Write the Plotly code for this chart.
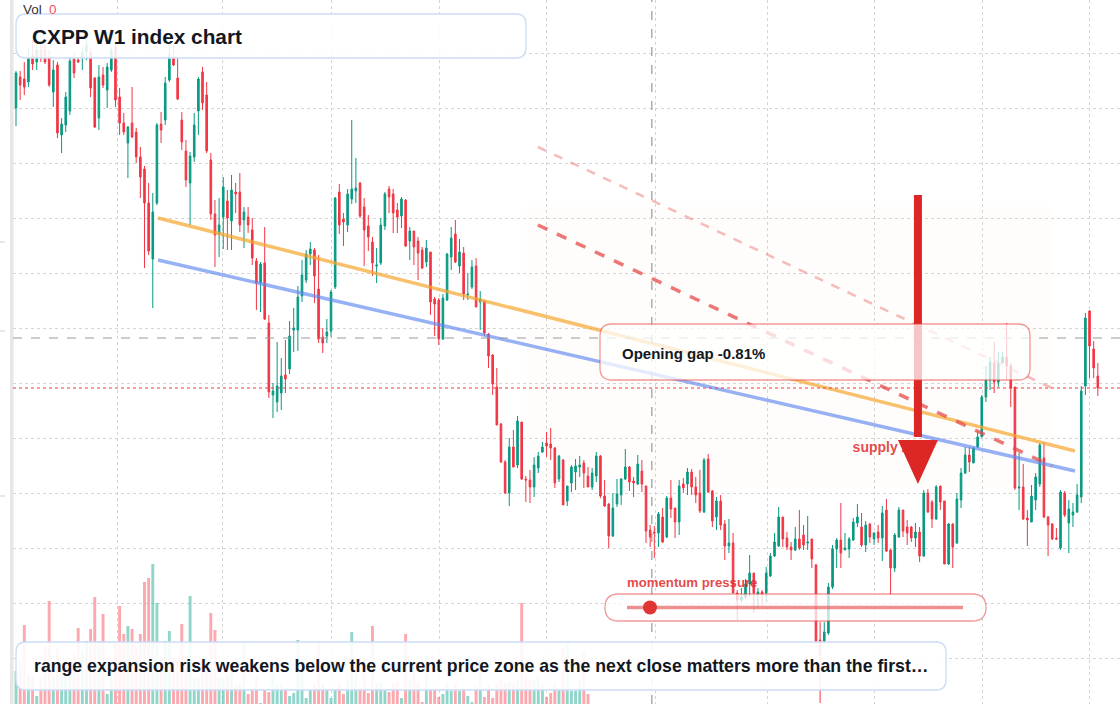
import plotly.graph_objects as go

# ---------------- data (weekly candles) ----------------
OPEN = [
    89.2, 92.3, 92.1, 91.8, 94.5, 93.8, 95.0, 95.0, 94.3, 90.8,
    93.5, 86.5, 87.5, 88.9, 94.1, 94.0, 94.3, 94.8, 94.7, 92.2,
    88.2, 92.5, 91.0, 93.0, 95.3, 90.3, 87.7, 85.7, 87.7, 86.8,
    84.3, 83.1, 79.7, 74.1, 79.7, 87.6, 88.0, 92.0, 94.2, 92.2,
    88.0, 84.9, 81.7, 84.3, 88.9, 92.8, 90.5, 84.0, 78.6, 76.6,
    78.3, 79.9, 77.9, 80.8, 80.8, 78.0, 78.3, 77.0, 73.9, 71.7,
    73.7, 67.7, 60.5, 59.8, 60.7, 62.5, 63.1, 67.0, 67.0, 70.4,
    72.0, 74.6, 75.0, 71.1, 66.3, 66.4, 66.9, 71.3, 80.8, 78.1,
    77.5, 80.1, 80.9, 81.7, 79.3, 77.4, 75.8, 73.4, 73.7, 77.4,
    81.1, 80.6, 79.0, 78.4, 80.0, 75.9, 76.9, 75.9, 75.0, 73.8,
    74.8, 70.1, 70.0, 66.1, 70.0, 74.3, 76.6, 73.4, 74.7, 70.5,
    71.3, 73.4, 69.8, 69.9, 66.6, 64.5, 61.3, 57.6, 53.8, 50.7,
    55.3, 53.5, 57.8, 52.1, 52.0, 51.3, 53.2, 54.8, 55.7, 55.6,
    55.2, 52.1, 54.0, 49.9, 51.7, 52.8, 53.3, 53.7, 52.4, 51.3,
    52.4, 54.4, 50.4, 49.6, 46.4, 49.6, 50.5, 52.1, 53.3, 51.9,
    51.6, 52.9, 51.4, 47.0, 46.8, 46.7, 48.3, 46.3, 50.2, 49.2,
    47.8, 51.6, 51.6, 52.8, 51.3, 50.7, 48.8, 54.1, 50.9, 48.3,
    49.9, 47.6, 45.4, 45.7, 40.7, 40.0, 40.3, 41.6, 42.7, 40.6,
    40.8, 40.7, 42.4, 44.4, 45.4, 48.3, 46.2, 45.3, 45.0, 46.1,
    46.5, 45.7, 46.1, 43.5, 36.0, 35.8, 36.7, 41.3, 45.1, 46.0,
    45.0, 45.1, 46.0, 47.7, 47.3, 45.5, 47.6, 46.1, 46.8, 46.2,
    49.0, 45.0, 43.2, 46.3, 49.0, 47.3, 47.3, 46.2, 46.8, 44.4,
    50.7, 49.8, 48.1, 51.4, 49.9, 43.6, 47.6, 45.7, 50.0, 52.7,
    54.5, 53.7, 55.3, 56.3, 60.3, 62.0, 63.7, 61.8, 63.7, 64.3,
    63.4, 61.3, 51.2, 51.3, 48.2, 47.8, 50.0, 51.6, 54.2, 48.3,
    47.6, 46.2, 45.2, 50.7, 47.7, 48.5, 48.8, 50.3, 61.4, 68.9,
    65.1, 62.4,
]
HIGH = [
    92.9, 92.9, 93.8, 95.3, 96.0, 95.5, 96.0, 95.5, 95.0, 94.0,
    93.8, 88.2, 90.8, 94.2, 94.7, 94.2, 95.3, 96.0, 95.3, 92.3,
    93.5, 93.3, 93.7, 95.3, 95.5, 91.2, 88.7, 87.4, 91.3, 87.2,
    85.3, 83.4, 81.7, 80.7, 87.7, 88.8, 92.3, 95.5, 95.5, 94.2,
    88.8, 86.0, 84.8, 88.7, 92.3, 93.3, 91.8, 84.7, 80.0, 80.2,
    82.3, 81.0, 82.5, 81.7, 82.7, 79.3, 79.3, 78.2, 74.2, 73.8,
    77.3, 68.5, 61.7, 65.8, 64.2, 66.0, 67.9, 69.2, 71.4, 74.0,
    75.0, 75.8, 75.2, 74.5, 67.2, 68.1, 71.0, 80.3, 81.6, 78.7,
    81.1, 88.0, 84.2, 81.8, 80.2, 78.5, 76.3, 75.2, 78.2, 80.8,
    81.4, 81.1, 79.7, 80.3, 80.1, 77.3, 76.9, 76.3, 75.3, 76.0,
    74.8, 70.3, 70.2, 70.6, 74.7, 77.3, 78.0, 76.1, 75.3, 72.7,
    74.0, 74.2, 70.9, 69.9, 66.7, 64.6, 63.2, 57.7, 54.0, 56.2,
    57.0, 58.4, 57.8, 52.4, 53.0, 54.3, 54.8, 55.8, 56.8, 57.2,
    55.3, 54.5, 54.1, 51.4, 53.5, 54.1, 54.4, 54.0, 53.3, 53.2,
    54.8, 54.5, 52.0, 49.7, 50.7, 52.1, 52.2, 55.1, 53.4, 52.3,
    54.5, 54.0, 51.4, 47.5, 47.4, 48.8, 49.2, 50.4, 52.0, 49.2,
    52.0, 52.2, 53.2, 53.1, 52.3, 53.0, 54.2, 54.6, 51.0, 50.3,
    50.5, 48.0, 48.1, 46.7, 41.0, 41.2, 42.1, 44.5, 42.7, 41.2,
    41.0, 43.3, 44.7, 46.7, 49.3, 48.3, 46.8, 45.8, 47.3, 49.0,
    47.5, 48.4, 46.1, 43.6, 37.8, 37.8, 41.7, 45.5, 46.2, 49.7,
    46.7, 46.3, 48.2, 49.6, 48.7, 47.9, 47.7, 46.8, 47.5, 49.4,
    50.1, 45.1, 46.7, 49.3, 49.0, 48.0, 47.4, 47.7, 47.3, 51.0,
    51.1, 50.0, 51.5, 51.4, 49.9, 47.7, 47.7, 50.7, 53.2, 55.3,
    55.3, 55.3, 56.9, 60.5, 63.4, 64.3, 65.8, 64.8, 64.8, 67.7,
    63.7, 61.3, 54.7, 53.6, 49.0, 51.5, 52.7, 55.7, 55.8, 48.4,
    47.7, 47.2, 51.0, 50.9, 50.0, 49.7, 51.6, 61.4, 68.7, 69.0,
    65.9, 63.7,
]
LOW = [
    87.4, 90.0, 90.5, 91.3, 93.0, 93.0, 93.8, 93.6, 91.3, 89.3,
    86.2, 84.7, 86.8, 88.5, 92.2, 93.7, 93.0, 94.0, 90.3, 87.2,
    87.0, 91.2, 89.2, 92.8, 89.3, 86.5, 86.5, 82.2, 86.2, 83.7,
    80.2, 73.2, 74.5, 69.2, 79.5, 85.7, 87.5, 91.8, 93.4, 90.0,
    85.0, 81.3, 77.5, 83.8, 86.5, 89.0, 84.7, 78.0, 73.3, 74.3,
    75.1, 75.0, 75.0, 78.7, 76.8, 75.2, 76.7, 73.5, 69.0, 68.8,
    68.0, 60.2, 58.2, 58.8, 59.0, 60.7, 62.6, 64.8, 64.9, 69.8,
    71.7, 73.5, 69.7, 65.7, 64.7, 65.7, 66.3, 71.1, 76.6, 75.4,
    76.8, 79.6, 79.7, 78.2, 73.4, 74.9, 72.4, 71.7, 73.5, 77.0,
    78.7, 76.7, 76.7, 77.2, 75.3, 74.0, 73.5, 72.0, 73.1, 73.3,
    68.5, 66.4, 65.5, 66.0, 69.9, 73.0, 73.7, 72.7, 70.0, 70.0,
    71.1, 69.3, 67.0, 66.4, 63.2, 60.5, 57.5, 53.7, 50.6, 49.4,
    53.3, 53.2, 52.0, 49.8, 49.7, 50.3, 52.7, 54.7, 54.3, 54.0,
    51.2, 51.8, 49.5, 49.4, 50.8, 51.0, 52.3, 51.2, 51.3, 51.0,
    51.8, 50.2, 49.3, 45.2, 46.3, 49.3, 49.5, 52.0, 50.9, 50.3,
    51.5, 50.8, 45.7, 45.3, 44.2, 45.3, 45.7, 46.2, 48.2, 46.2,
    46.5, 50.7, 50.5, 50.5, 49.7, 48.7, 48.7, 50.7, 47.3, 47.0,
    47.0, 44.0, 44.7, 40.7, 38.0, 39.8, 40.1, 40.3, 38.7, 39.2,
    39.5, 39.8, 42.3, 44.3, 45.3, 45.3, 45.0, 44.0, 44.9, 45.0,
    45.0, 45.0, 43.2, 35.3, 29.7, 35.6, 36.5, 41.1, 43.2, 43.2,
    45.0, 44.2, 45.9, 47.3, 45.3, 44.8, 45.7, 45.5, 45.7, 43.9,
    44.8, 40.5, 42.8, 46.2, 46.3, 45.5, 45.8, 45.3, 43.8, 44.3,
    48.7, 47.2, 48.0, 49.0, 43.6, 43.5, 43.2, 45.6, 49.2, 52.6,
    52.8, 54.3, 55.2, 56.3, 59.8, 61.0, 60.7, 61.3, 63.7, 62.0,
    59.3, 51.0, 49.0, 48.0, 45.4, 47.8, 49.0, 51.3, 48.2, 44.4,
    46.0, 46.0, 45.0, 48.3, 44.7, 47.3, 48.7, 49.7, 60.5, 62.2,
    62.2, 60.4,
]
CLOSE = [
    92.7, 91.5, 91.3, 94.2, 93.6, 95.0, 94.2, 93.8, 91.5, 93.0,
    86.7, 87.6, 90.3, 93.9, 92.7, 93.8, 94.8, 95.5, 91.2, 87.3,
    92.3, 91.5, 93.3, 95.0, 90.0, 87.7, 86.8, 87.3, 86.3, 84.3,
    82.3, 79.7, 74.9, 78.8, 87.5, 87.0, 91.7, 94.5, 93.5, 90.1,
    85.8, 82.0, 84.4, 87.5, 92.1, 89.7, 84.9, 78.6, 76.5, 77.5,
    81.3, 78.2, 81.0, 80.6, 77.5, 78.8, 77.5, 74.2, 71.7, 73.6,
    68.1, 60.8, 60.9, 61.4, 62.4, 62.1, 66.4, 67.2, 70.3, 72.5,
    74.6, 75.1, 72.4, 66.1, 65.7, 66.8, 70.8, 80.2, 77.5, 77.8,
    80.6, 81.1, 81.2, 78.4, 77.0, 76.3, 73.7, 73.5, 77.5, 80.6,
    80.3, 78.7, 78.3, 80.1, 75.4, 76.9, 75.3, 74.7, 73.2, 75.2,
    69.8, 69.6, 66.1, 70.2, 74.6, 76.2, 73.8, 74.8, 70.6, 70.6,
    73.3, 69.3, 70.1, 66.7, 64.4, 61.6, 57.5, 53.8, 50.7, 55.3,
    53.3, 57.9, 52.1, 52.0, 51.3, 53.5, 54.4, 55.3, 55.4, 55.2,
    51.7, 54.4, 49.5, 51.4, 53.3, 53.4, 53.5, 52.7, 51.3, 52.7,
    54.4, 50.4, 49.4, 46.4, 49.2, 50.6, 52.1, 53.3, 51.8, 51.7,
    53.6, 51.6, 46.9, 46.3, 46.7, 48.6, 45.8, 50.2, 49.1, 47.8,
    51.4, 51.2, 52.8, 51.3, 50.5, 48.9, 54.0, 50.8, 47.9, 49.9,
    47.5, 45.4, 45.7, 40.7, 40.0, 40.3, 41.6, 42.7, 40.7, 40.8,
    40.6, 42.7, 44.4, 45.8, 48.3, 46.1, 45.3, 45.0, 46.1, 45.2,
    45.5, 45.8, 44.1, 35.8, 34.5, 36.8, 41.3, 45.1, 46.0, 44.7,
    45.2, 46.1, 47.8, 48.3, 45.5, 47.5, 46.3, 46.7, 46.2, 48.7,
    44.9, 43.2, 46.5, 49.0, 46.9, 46.7, 46.2, 46.8, 44.4, 50.7,
    48.8, 48.1, 51.3, 49.8, 43.6, 47.6, 45.3, 50.1, 52.7, 54.5,
    53.8, 55.2, 56.3, 60.3, 62.0, 63.8, 61.8, 63.7, 64.3, 63.4,
    61.2, 51.2, 51.3, 48.1, 48.0, 50.4, 52.3, 55.5, 48.3, 47.5,
    46.1, 46.1, 50.8, 48.5, 49.1, 48.8, 50.5, 60.9, 68.2, 65.4,
    63.2, 61.2,
]
VOLUME = [
    33, 42, 79, 29, 28, 8, 26, 57, 103, 27,
    55, 32, 28, 37, 50, 76, 53, 63, 75, 107,
    63, 90, 10, 30, 61, 98, 70, 78, 75, 57,
    70, 122, 126, 140, 101, 47, 63, 73, 46, 44,
    80, 47, 108, 27, 26, 44, 40, 91, 74, 27,
    25, 30, 35, 20, 20, 61, 10, 14, 27, 1,
    14, 12, 31, 19, 19, 14, 8, 11, 64, 31,
    6, 14, 20, 61, 20, 15, 6, 15, 21, 10,
    25, 72, 31, 17, 46, 11, 78, 21, 21, 15,
    12, 21, 22, 6, 70, 25, 40, 22, 2, 48,
    17, 17, 7, 10, 22, 13, 22, 13, 15, 8,
    2, 18, 47, 7, 19, 6, 22, 24, 21, 22,
    21, 24, 101, 27, 24, 24, 26, 20, 7, 11,
    19, 15, 57, 61, 13, 13, 23, 52, 10,
]
GRID_X = [24.4, 49.9, 76.2, 102.1, 128.1, 154.2, 181.2, 207.2, 233.1, 259.1]

TITLE = "CXPP W1 index chart"
FOOTER = ("range expansion risk weakens below the current price zone as the next "
          "close matters more than the first…")
GAP_LABEL = "Opening gap -0.81%"
ZONE_LABEL = "supply zone"
MOMENTUM_LABEL = "momentum pressure"

# drawing annotations (data units: bar index / price)
TREND_ORANGE = (34.26, 78.2, 255.5, 54.9)
TREND_BLUE = (34.26, 74.0, 255.5, 52.9)
CHANNEL_RED = (125.9, 77.5, 249.9, 53.4)
CHANNEL_LIGHT = (125.9, 85.3, 249.9, 61.2)
ZONE_BOX = (123.3, 79.3, 249.9, 51.3)
ARROW = dict(x=217.6, top=80.5, base=56.0, tip=51.6, half=4.83)
ZONE_TEXT_AT = (211.6, 55.2)
CROSS_X, CROSS_Y = 153.4, 66.2

# ---------------- geometry helpers ----------------
W, H = 1120, 704
ML = 13
X_RANGE = [-0.724, 266.35]
Y_RANGE = [29.6, 100.0]


def px(x):
    return (x - ML) / (W - ML)


def py(y):
    return 1 - y / H


def rrect(x0, y0, x1, y1, r):
    rx, ry = r / (W - ML), r / H
    X0, X1, Y0, Y1 = px(x0), px(x1), py(y0), py(y1)
    return (f"M {X0+rx},{Y0} L {X1-rx},{Y0} Q {X1},{Y0} {X1},{Y0-ry} "
            f"L {X1},{Y1+ry} Q {X1},{Y1} {X1-rx},{Y1} "
            f"L {X0+rx},{Y1} Q {X0},{Y1} {X0},{Y1+ry} "
            f"L {X0},{Y0-ry} Q {X0},{Y0} {X0+rx},{Y0} Z")


UP, DN = "#089981", "#F23645"
UP_V, DN_V = "rgba(34,171,148,0.5)", "rgba(247,82,95,0.5)"
FONT = "Liberation Sans, Arial, Helvetica, sans-serif"
INK = "#131722"

fig = go.Figure()

vol_colors = [UP_V if CLOSE[i] >= OPEN[i] else DN_V for i in range(len(VOLUME))]
fig.add_trace(go.Bar(x=list(range(len(VOLUME))), y=VOLUME, yaxis="y2",
                     marker=dict(color=vol_colors, line=dict(width=0)),
                     width=0.7, hoverinfo="skip", showlegend=False))

fig.add_trace(go.Candlestick(
    x=list(range(len(CLOSE))), open=OPEN, high=HIGH, low=LOW, close=CLOSE,
    increasing=dict(line=dict(color=UP, width=1), fillcolor=UP),
    decreasing=dict(line=dict(color=DN, width=1), fillcolor=DN),
    whiskerwidth=0, showlegend=False))

fig.add_trace(go.Scatter(x=[ZONE_TEXT_AT[0]], y=[ZONE_TEXT_AT[1]], mode="text",
                         text=[f"<b>{ZONE_LABEL}</b>"],
                         textfont=dict(family=FONT, size=14, color="rgba(222,40,40,0.85)"),
                         hoverinfo="skip", showlegend=False))

shapes = []
# faint zone shading
zx0, zy0, zx1, zy1 = ZONE_BOX
shapes.append(dict(type="rect", xref="x", yref="y", x0=zx0, x1=zx1, y0=zy1, y1=zy0,
                   fillcolor="rgba(240,215,190,0.06)", line=dict(width=0), layer="below"))
# left price-scale strip
shapes.append(dict(type="rect", xref="paper", yref="paper", x0=px(10), x1=px(13.5),
                   y0=0, y1=1, fillcolor="#e6e6e6", line=dict(width=0)))
for ty in (242, 331, 496):
    shapes.append(dict(type="line", xref="paper", yref="paper", x0=px(0), x1=px(5),
                       y0=py(ty), y1=py(ty), line=dict(color="#cfcfcf", width=1)))

# trend lines
for (x0, y0, x1, y1), col, wd, dash in [
    (TREND_ORANGE, "rgba(247,165,45,0.7)", 3.5, "solid"),
    (TREND_BLUE, "rgba(95,135,240,0.65)", 3.5, "solid"),
    (CHANNEL_LIGHT, "rgba(238,120,120,0.5)", 2.5, "dash"),
    (CHANNEL_RED, "rgba(228,75,75,0.75)", 3.5, "dash"),
]:
    shapes.append(dict(type="line", xref="x", yref="y", x0=x0, y0=y0, x1=x1, y1=y1,
                       line=dict(color=col, width=wd, dash=dash), layer="above"))

# crosshair and last-price line
shapes.append(dict(type="line", xref="x", yref="paper", x0=CROSS_X, x1=CROSS_X, y0=0, y1=1,
                   line=dict(color="#9a9a9a", width=1.2, dash="dash"), layer="above"))
shapes.append(dict(type="line", xref="paper", yref="y", x0=0, x1=1, y0=CROSS_Y, y1=CROSS_Y,
                   line=dict(color="#9a9a9a", width=1.2, dash="dash"), layer="above"))
shapes.append(dict(type="line", xref="paper", yref="y", x0=0, x1=1, y0=CLOSE[-1], y1=CLOSE[-1],
                   line=dict(color="#F23645", width=1.2, dash="dot"), layer="above"))

# big arrow
a = ARROW
shapes.append(dict(type="line", xref="x", yref="y", x0=a["x"], x1=a["x"], y0=a["top"], y1=a["base"] + 0.3,
                   line=dict(color="#DD2626", width=8), layer="above"))
shapes.append(dict(type="path", xref="x", yref="y",
                   path=f"M {a['x']-a['half']},{a['base']} L {a['x']+a['half']},{a['base']} L {a['x']},{a['tip']} Z",
                   fillcolor="#DD2626", line=dict(width=0), layer="above"))

# opening gap box
shapes.append(dict(type="path", xref="paper", yref="paper", path=rrect(600, 324, 1030, 380, 12),
                   fillcolor="rgba(255,255,255,0.74)", line=dict(color="rgba(228,70,70,0.55)", width=1.3),
                   layer="above"))
# momentum pill
shapes.append(dict(type="path", xref="paper", yref="paper", path=rrect(605, 594, 986, 621, 13.5),
                   fillcolor="rgba(255,255,255,0.74)", line=dict(color="rgba(228,70,70,0.55)", width=1.3),
                   layer="above"))
shapes.append(dict(type="line", xref="paper", yref="paper", x0=px(627), x1=px(963), y0=py(607.5), y1=py(607.5),
                   line=dict(color="rgba(228,70,70,0.6)", width=3.5), layer="above"))
shapes.append(dict(type="circle", xref="paper", yref="paper", x0=px(643), x1=px(657), y0=py(614.5), y1=py(600.5),
                   fillcolor="#E03535", line=dict(width=0), layer="above"))
# title and footer boxes
shapes.append(dict(type="path", xref="paper", yref="paper", path=rrect(16, 14, 526, 58, 10),
                   fillcolor="rgba(255,255,255,0.88)", line=dict(color="#cbdcf5", width=1.3), layer="above"))
shapes.append(dict(type="path", xref="paper", yref="paper", path=rrect(16, 642, 946, 690, 10),
                   fillcolor="rgba(255,255,255,0.9)", line=dict(color="#cbdcf5", width=1.3), layer="above"))

annotations = [
    dict(x=px(30), y=py(36), text=f"<b>{TITLE}</b>", font=dict(family=FONT, size=20.8, color=INK)),
    dict(x=px(21), y=py(9), text="Vol", font=dict(family=FONT, size=13.5, color="#333333")),
    dict(x=px(47), y=py(9), text="0", font=dict(family=FONT, size=13.5, color="#F7525F")),
    dict(x=px(620), y=py(353), text=f"<b>{GAP_LABEL}</b>", font=dict(family=FONT, size=15, color=INK)),
    dict(x=px(625), y=py(582), text=f"<b>{MOMENTUM_LABEL}</b>",
         font=dict(family=FONT, size=13.2, color="rgba(222,40,40,0.85)")),
    dict(x=px(32), y=py(666), text=f"<b>{FOOTER}</b>", font=dict(family=FONT, size=17.7, color=INK)),
]
for an in annotations:
    an.update(xref="paper", yref="paper", xanchor="left", yanchor="middle", showarrow=False)

fig.update_layout(
    width=W, height=H, margin=dict(l=ML, r=0, t=0, b=0),
    paper_bgcolor="white", plot_bgcolor="white",
    showlegend=False, boxgap=0.45, bargap=0.3,
    xaxis=dict(range=X_RANGE, rangeslider=dict(visible=False), tickvals=GRID_X,
               showticklabels=False, ticks="", showgrid=True, gridcolor="#d4d4d4",
               griddash="dot", gridwidth=1, zeroline=False, showline=False, fixedrange=True),
    yaxis=dict(range=Y_RANGE, tick0=61.67, dtick=5.5, showticklabels=False, ticks="",
               showgrid=True, gridcolor="#d4d4d4", griddash="dot", gridwidth=1,
               zeroline=False, showline=False, fixedrange=True),
    yaxis2=dict(range=[0, H], overlaying="y", visible=False, showgrid=False, fixedrange=True),
    shapes=shapes, annotations=annotations,
    hovermode=False,
)

fig.write_html("out.html", config={"displayModeBar": False})
